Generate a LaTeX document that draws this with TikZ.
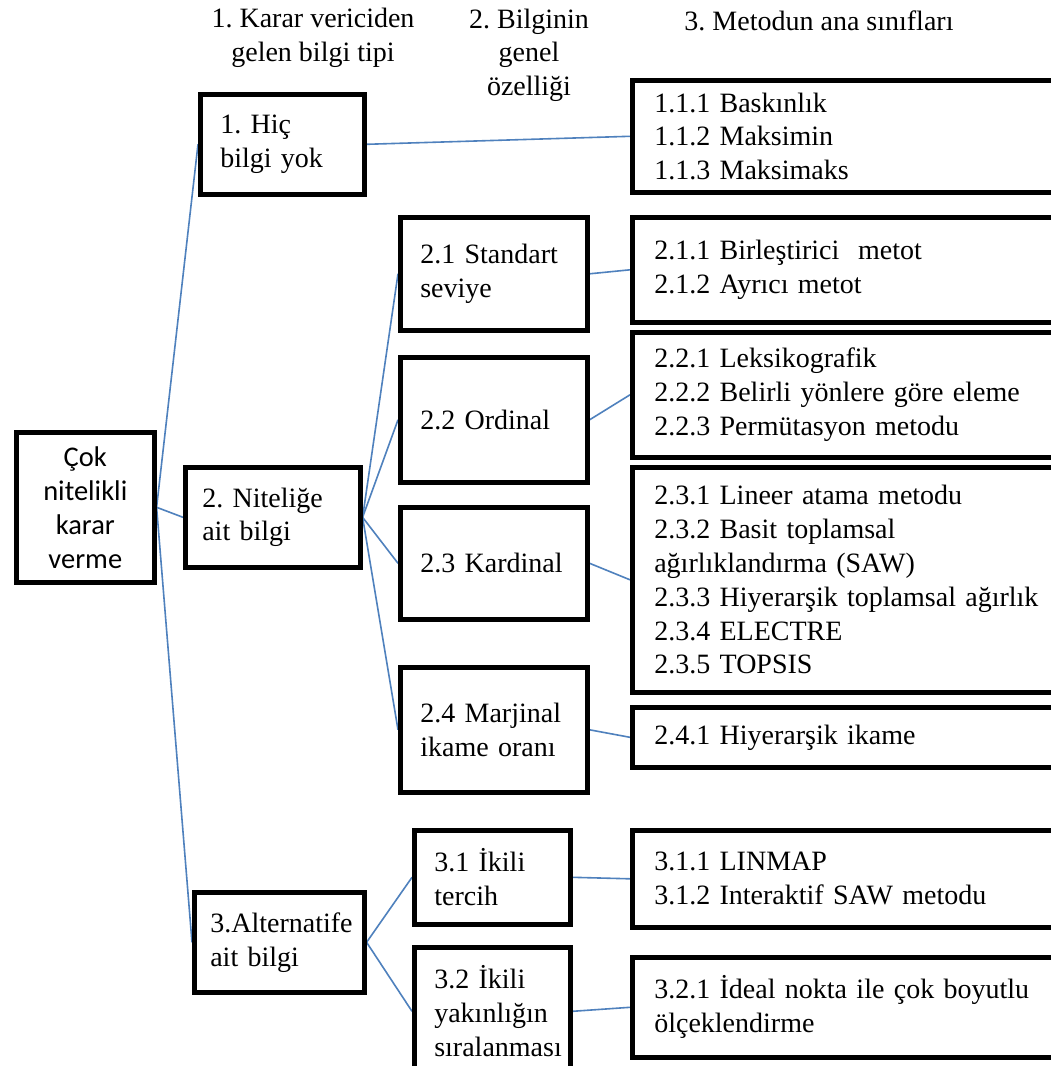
\documentclass[tikz,border=0pt]{standalone}
\usepackage{fontspec}
\setmainfont{Liberation Serif}
\newfontfamily\calibfont{Carlito}
\usetikzlibrary{backgrounds}
\definecolor{linkblue}{RGB}{79,129,189}
\tikzset{
  box/.style={draw=black, line width=4.6pt, anchor=north west, inner xsep=20pt, inner ysep=0pt,
    align=left, font=\fontsize{28}{33.8}\selectfont},
  link/.style={draw=linkblue, line width=1.6pt},
  hdr/.style={align=center, inner sep=0pt, font=\fontsize{28}{33.5}\selectfont}
}
\frenchspacing
\begin{document}
\frenchspacing
\begin{tikzpicture}[x=1pt,y=-1pt]
\useasboundingbox (0,0) rectangle (1051,1066);
\clip (0,0) rectangle (1051,1066);

% headers
\node[hdr] (h1) at (313,38) {1. Karar vericiden\\gelen bilgi tipi};
\node[hdr] (h2) at (529,55) {2. Bilginin\\genel\\özelliği};
\node[hdr] (h3) at (819,21) {3. Metodun ana sınıfları};

% root
\node[box, inner xsep=4pt, text width=130pt, align=center, minimum height=150pt,
  font=\calibfont\fontsize{28.5}{34}\selectfont] (root) at (14,430) {Çok\\nitelikli\\karar\\verme};

% level 1
\node[box, text width=124pt, minimum height=100pt] (n1) at (198,92) {1. Hiç\\bilgi yok};
\node[box, inner xsep=17pt, text width=141pt, minimum height=100pt] (n2) at (183,465) {2. Niteliğe\\ait bilgi};
\node[box, inner xsep=16pt, text width=138pt, minimum height=100pt] (n3) at (192,890) {3.Alternatife\\ait bilgi};

% level 2
\node[box, text width=147pt, minimum height=113pt] (n21) at (398,215) {2.1 Standart\\seviye};
\node[box, text width=147pt, minimum height=125pt] (n22) at (398,355) {2.2 Ordinal};
\node[box, text width=147pt, minimum height=112pt] (n23) at (398,505) {2.3 Kardinal};
\node[box, text width=147pt, minimum height=125pt] (n24) at (398,665) {2.4 Marjinal\\ikame oranı};
\node[box, text width=116pt, minimum height=94pt] (n31) at (412,828) {3.1 İkili\\tercih};
\node[box, text width=116pt, minimum height=128pt] (n32) at (412,945) {3.2 İkili\\yakınlığın\\sıralanması};

% level 3
\node[box, inner xsep=22pt, text width=416pt, minimum height=112pt] (m11) at (630,78) {1.1.1 Baskınlık\\1.1.2 Maksimin\\1.1.3 Maksimaks};
\node[box, inner xsep=22pt, text width=416pt, minimum height=105pt] (m21) at (630,215) {2.1.1 Birleştirici~ metot\\2.1.2 Ayrıcı metot};
\node[box, inner xsep=22pt, text width=416pt, minimum height=125pt] (m22) at (630,330) {2.2.1 Leksikografik\\2.2.2 Belirli yönlere göre eleme\\2.2.3 Permütasyon metodu};
\node[box, inner xsep=22pt, text width=416pt, minimum height=225pt] (m23) at (630,465) {2.3.1 Lineer atama metodu\\2.3.2 Basit toplamsal\\ağırlıklandırma (SAW)\\2.3.3 Hiyerarşik toplamsal ağırlık\\2.3.4 ELECTRE\\2.3.5 TOPSIS};
\node[box, inner xsep=22pt, text width=416pt, minimum height=60pt] (m24) at (630,705) {2.4.1 Hiyerarşik ikame};
\node[box, inner xsep=22pt, text width=416pt, minimum height=97pt] (m31) at (630,828) {3.1.1 LINMAP\\3.1.2 Interaktif SAW metodu};
\node[box, inner xsep=22pt, text width=416pt, minimum height=100pt] (m32) at (630,955) {3.2.1 İdeal nokta ile çok boyutlu\\ölçeklendirme};

\begin{scope}[on background layer]
\fill[white] (0,0) rectangle (1051,1066);
\draw[link] (root.east) -- (n1.west);
\draw[link] (root.east) -- (n2.west);
\draw[link] (root.east) -- (n3.west);
\draw[link] (n1.east) -- (m11.west);
\draw[link] (n2.east) -- (n21.west);
\draw[link] (n2.east) -- (n22.west);
\draw[link] (n2.east) -- (n23.west);
\draw[link] (n2.east) -- (n24.west);
\draw[link] (n21.east) -- (m21.west);
\draw[link] (n22.east) -- (m22.west);
\draw[link] (n23.east) -- (m23.west);
\draw[link] (n24.east) -- (m24.west);
\draw[link] (n3.east) -- (n31.west);
\draw[link] (n3.east) -- (n32.west);
\draw[link] (n31.east) -- (m31.west);
\draw[link] (n32.east) -- (m32.west);
\end{scope}
\end{tikzpicture}
\end{document}
